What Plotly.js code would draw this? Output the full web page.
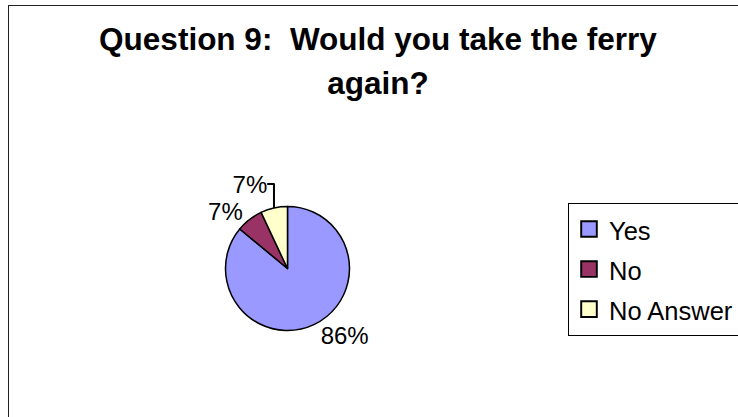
<!DOCTYPE html>
<html>
<head>
<meta charset="utf-8">
<script src="https://cdn.plot.ly/plotly-3.0.1.min.js"></script>
<style>
  html, body { margin: 0; padding: 0; background: #fff; overflow: hidden; }
  #chart { position: absolute; left: 0; top: 0; width: 738px; height: 417px; }
  #frame { position: absolute; left: 8px; top: 5px; width: 800px; height: 500px;
           border-left: 1px solid #222; border-top: 1px solid #222; pointer-events: none; }
</style>
</head>
<body>
<div id="chart"></div>
<div id="frame"></div>
<script>
// ---- data ----
const categories = ["Yes", "No", "No Answer"];
const responses = [86, 7, 7];
const sliceColors = ["#9999FF", "#993366", "#FFFFCC"];
const titleLines = ["Question 9:  Would you take the ferry", "again?"];

const W = 738, H = 417;
const cx = 287.5, cy = 268.5, r = 62;

const FONT = "Liberation Sans, Arial, Helvetica, sans-serif";

const trace = {
  type: "pie",
  labels: categories.map(c => '<span style="font-size:25.5px">' + c + '</span>'),
  values: responses,
  sort: false,
  direction: "clockwise",
  rotation: 0,
  marker: { colors: sliceColors, line: { color: "#000", width: 1.5 } },
  textinfo: "percent",
  textposition: "outside",
  outsidetextfont: { family: FONT, size: 24, color: "#000" },
  hoverinfo: "label+percent",
  domain: {
    x: [(cx - r) / W, (cx + r) / W],
    y: [1 - (cy + r) / H, 1 - (cy - r) / H]
  }
};

const layout = {
  width: W, height: H,
  margin: { l: 0, r: 0, t: 0, b: 0, autoexpand: false },
  paper_bgcolor: "rgba(0,0,0,0)",
  plot_bgcolor: "rgba(0,0,0,0)",
  showlegend: true,
  title: {
    text: titleLines.map(t => '<span style="font-size:31.5px">' + t + '</span>').join("<br>"),
    font: { family: FONT, size: 34, color: "#000", weight: "bold" },
    x: 378 / W, xanchor: "center",
    y: 1 - 50 / H, yanchor: "top"
  },
  legend: {
    x: 568 / W, xanchor: "left",
    y: 1 - 203 / H, yanchor: "top",
    bordercolor: "#000", borderwidth: 1,
    bgcolor: "#fff",
    font: { family: FONT, size: 28.5, color: "#000" }
  },
  font: { family: FONT }
};

Plotly.newPlot("chart", [trace], layout, { staticPlot: true }).then(gd => {
  gd.querySelectorAll(".legend .legendpoints path").forEach(p => {
    const t = p.getAttribute("transform") || "";
    p.setAttribute("transform", t + " scale(1.3)");
  });
});
</script>
</body>
</html>
